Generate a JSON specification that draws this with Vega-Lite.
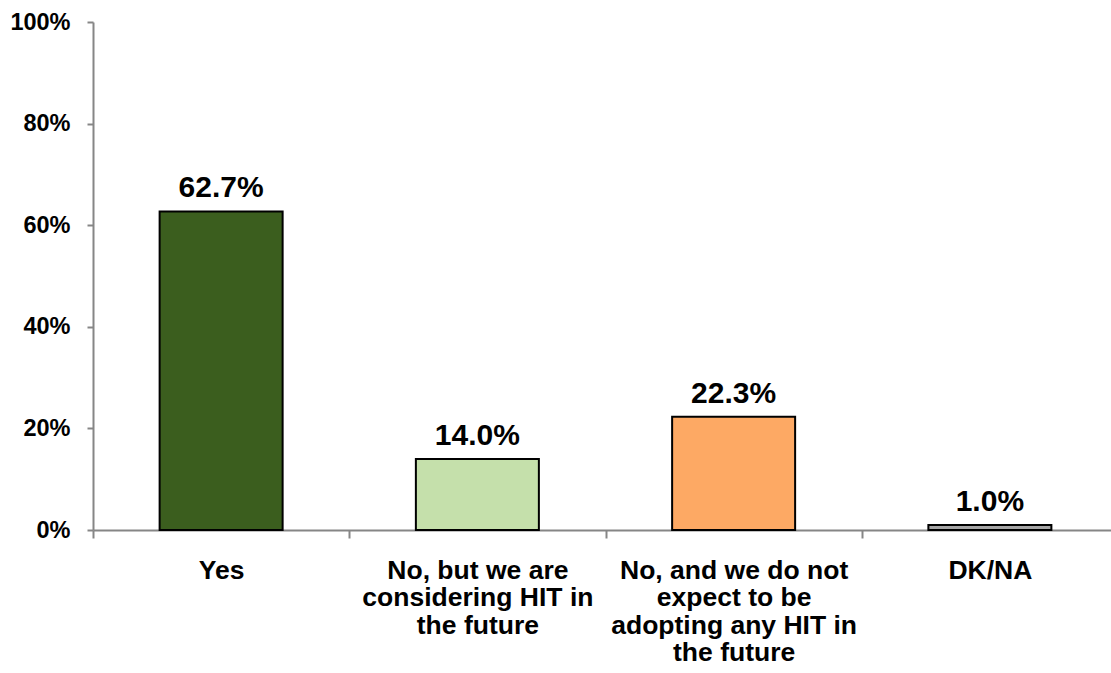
{
  "$schema": "https://vega.github.io/schema/vega-lite/v6.json",
  "width": 1025,
  "height": 508,
  "autosize": {"type": "none"},
  "padding": {"left": 93, "top": 22, "right": 0, "bottom": 143},
  "background": "white",
  "config": {"view": {"stroke": null}, "font": "Liberation Sans"},
  "data": {"values": [
    {"cat": "Yes", "value": 62.7, "label": "62.7%", "color": "#3B5E1E"},
    {"cat": "No, but we are|considering HIT in|the future", "value": 14.0, "label": "14.0%", "color": "#C5E0AB"},
    {"cat": "No, and we do not|expect to be|adopting any HIT in|the future", "value": 22.3, "label": "22.3%", "color": "#FDA964"},
    {"cat": "DK/NA", "value": 1.0, "label": "1.0%", "color": "#A6A6A6"}
  ]},
  "encoding": {
    "x": {"field": "cat", "type": "nominal", "sort": null,
      "scale": {"paddingInner": 0, "paddingOuter": 0},
      "axis": {"title": null, "labelAngle": 0, "labelExpr": "split(datum.label, '|')",
        "labelFont": "Liberation Sans", "labelFontSize": 26.5, "labelFontWeight": "bold", "labelColor": "black",
        "labelLineHeight": 27.5, "labelPadding": 19, "labelLimit": 400, "labelBaseline": "top",
        "domainColor": "#868686", "domainWidth": 2, "tickColor": "#868686", "tickWidth": 2, "tickSize": 8,
        "tickBand": "extent"}},
    "y": {"field": "value", "type": "quantitative",
      "scale": {"domain": [0, 100], "nice": false},
      "axis": {"title": null, "values": [0, 20, 40, 60, 80, 100], "labelExpr": "datum.value + '%'", "grid": false,
        "labelFont": "Liberation Sans", "labelFontSize": 23.5, "labelFontWeight": "bold", "labelColor": "black",
        "labelPadding": 17, "domainColor": "#868686", "domainWidth": 2, "tickColor": "#868686", "tickWidth": 2, "tickSize": 6}}
  },
  "layer": [
    {"mark": {"type": "bar", "stroke": "black", "strokeWidth": 2, "width": {"band": 0.48}},
     "encoding": {"color": {"field": "color", "type": "nominal", "scale": null}}},
    {"mark": {"type": "text", "baseline": "alphabetic", "dy": -14, "font": "Liberation Sans", "fontSize": 30, "fontWeight": "bold", "color": "black"},
     "encoding": {"text": {"field": "label"}}}
  ]
}
